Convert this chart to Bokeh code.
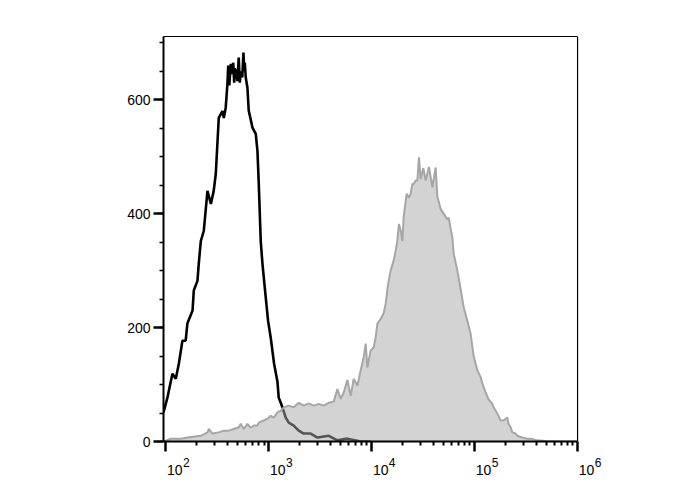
from bokeh.plotting import figure
from bokeh.models import (Range1d, FixedTicker, SingleIntervalTicker, LogAxis,
                          CustomJSTickFormatter, Span)
from bokeh.embed import file_html
from bokeh.resources import INLINE

# Black (control) histogram: fluorescence value, event count
black_x = [95, 104, 116, 125, 134, 145, 156, 162, 182, 187,
           203, 209, 219, 234, 254, 274, 292, 306, 327, 355,
           366, 382, 397, 404, 414, 428, 444, 452, 462, 468,
           478, 497, 511, 523, 535, 553, 568, 578, 585, 598,
           621, 639, 695, 748, 777, 800, 836, 869, 935, 985,
           1046, 1126, 1215, 1250, 1308, 1358, 1462, 1564, 1748, 1955,
           2187, 2557, 2971, 3824, 4645, 5808, 7821, 9779]
black_c = [51, 78, 119, 110, 137, 177, 177, 207, 230, 265,
           282, 312, 352, 370, 440, 417, 440, 470, 568, 580,
           568, 586, 628, 660, 625, 663, 645, 665, 630, 655,
           651, 633, 674, 630, 650, 639, 683, 650, 665, 639,
           621, 581, 551, 540, 510, 453, 352, 312, 253, 212,
           182, 137, 105, 77, 68, 60, 42, 33, 28, 19,
           14, 14, 7, 10, 2, 5, 0, 0]

# Gray (stained) histogram
gray_x = [96, 112, 140, 162, 219, 254, 262, 284, 327, 366,
          409, 457, 511, 535, 572, 621, 669, 715, 777, 800,
          894, 971, 1046, 1118, 1215, 1308, 1398, 1564, 1748, 1955,
          2187, 2445, 2735, 3058, 3420, 3824, 4276, 4645, 5000, 5348,
          5808, 6254, 6688, 7265, 7821, 8362, 8745, 9085, 9353, 9779,
          10457, 10934, 11358, 12228, 13076, 13677, 14398, 15292, 16356, 17103,
          17764, 18408, 19123, 19866, 20451, 21873, 22871, 23917, 24845, 25580,
          26743, 27777, 28786, 29900, 31761, 33441, 36007, 37400, 38847, 41816,
          43436, 46776, 50003, 54325, 55924, 60745, 62535, 67920, 73128, 78199,
          84947, 91460, 97791, 106217, 114372, 118806, 127905, 136770, 148524, 152928,
          166129, 178784, 191205, 207704, 213837, 223606, 232274, 250125, 259807, 290426,
          324867, 349842, 406212, 489025, 683912, 1000000]
gray_c = [0, 5, 5, 7, 10, 16, 22, 14, 16, 19,
          19, 22, 25, 31, 22, 31, 24, 28, 28, 33,
          37, 40, 45, 42, 51, 54, 60, 63, 60, 68,
          63, 67, 63, 66, 63, 68, 70, 92, 75, 86,
          108, 80, 110, 98, 125, 148, 172, 130, 142, 160,
          165, 183, 207, 215, 225, 242, 275, 300, 318, 335,
          353, 382, 370, 352, 395, 435, 428, 435, 452, 452,
          458, 458, 499, 461, 480, 458, 482, 464, 446, 481,
          430, 408, 400, 390, 393, 358, 330, 300, 268, 236,
          212, 189, 150, 125, 113, 102, 86, 74, 66, 60,
          49, 37, 37, 42, 31, 25, 16, 14, 10, 7,
          5, 5, 2, 1, 0, 0]

x_ticks = [100, 1000, 10000, 100000, 1000000]
x_tick_base = ["10", "10", "10", "10", "10"]
x_tick_exps = ["2", "3", "4", "5", "6"]
x_minor = [m * t for t in [10, 100, 1000, 10000, 100000] for m in range(2, 10)]
x_lo, x_hi = 95, 1000000          # visible plot box
y_lo, y_hi = 0, 711

# the frame runs a little past the box on the right so the last tick label fits
p = figure(width=686, height=488, x_axis_type="log",
           x_range=Range1d(x_lo, 1.67e6), y_range=Range1d(y_lo, y_hi),
           output_backend="svg", toolbar_location=None,
           min_border_left=163, min_border_right=86,
           min_border_top=36, min_border_bottom=47)

p.line(black_x, black_c, line_color="black", line_width=2.6)
p.varea(x=gray_x, y1=[0] * len(gray_x), y2=gray_c,
        fill_color="#a8a8a8", fill_alpha=0.5)
p.line(gray_x, gray_c, line_color="#a6a6a6", line_width=2)

p.grid.visible = False
p.outline_line_color = None
p.background_fill_color = "white"
p.border_fill_color = "white"

xa = p.xaxis[0]
xa.bounds = (x_lo, x_hi)
xa.ticker = FixedTicker(ticks=x_ticks, minor_ticks=x_minor)
xa.major_label_overrides = {t: "" for t in x_ticks}
xa.major_label_text_font_size = "0px"
xa.major_label_standoff = 0
xa.axis_line_width = 2
xa.major_tick_line_width = 2.5
xa.minor_tick_line_width = 2
xa.major_tick_out = 10
xa.major_tick_in = 0
xa.minor_tick_out = 4
xa.minor_tick_in = 0

# box: top edge as a bare axis, right edge as a span at the last decade
top = LogAxis(bounds=(x_lo, x_hi), ticker=FixedTicker(ticks=[], minor_ticks=[]),
              axis_line_width=1.2, axis_line_color="black",
              major_tick_line_color=None, minor_tick_line_color=None,
              major_tick_out=0, minor_tick_out=0,
              major_label_text_font_size="0px", major_label_standoff=0)
p.add_layout(top, "above")
p.add_layout(Span(location=x_hi, dimension="height",
                  line_color="black", line_width=1.2))

# tick labels "10" with a raised exponent, set just right of each tick
def label_axis(shift_px, texts, size, standoff):
    f = 10 ** (shift_px / 103.0)
    pos = [t * f for t in x_ticks]
    ax = LogAxis(ticker=FixedTicker(ticks=pos, minor_ticks=[]),
                 formatter=CustomJSTickFormatter(
                     args=dict(pos=pos, texts=texts),
                     code="""
                     for (let i = 0; i < pos.length; i++) {
                       if (Math.abs(pos[i] - tick) / pos[i] < 1e-6) return texts[i];
                     }
                     return "";
                     """),
                 axis_line_color=None, major_tick_line_color=None,
                 minor_tick_line_color=None,
                 major_tick_out=0, major_tick_in=0,
                 minor_tick_out=0, minor_tick_in=0,
                 major_label_standoff=standoff,
                 major_label_text_font="Liberation Sans",
                 major_label_text_font_size=size,
                 major_label_text_color="black")
    p.add_layout(ax, "below")

label_axis(20.5, x_tick_exps, "12px", 6)
label_axis(9.0, x_tick_base, "14px", -5)

ya = p.yaxis[0]
ya.ticker = SingleIntervalTicker(interval=200, num_minor_ticks=4)
ya.axis_line_width = 2
ya.major_tick_line_width = 2.5
ya.minor_tick_line_width = 1.5
ya.major_tick_out = 10
ya.major_tick_in = 0
ya.minor_tick_out = 4
ya.minor_tick_in = 0
ya.major_label_text_font = "Liberation Sans"
ya.major_label_text_font_size = "14px"
ya.major_label_text_color = "black"
ya.major_label_standoff = 3

open("out.html", "w").write(file_html(p, INLINE))
